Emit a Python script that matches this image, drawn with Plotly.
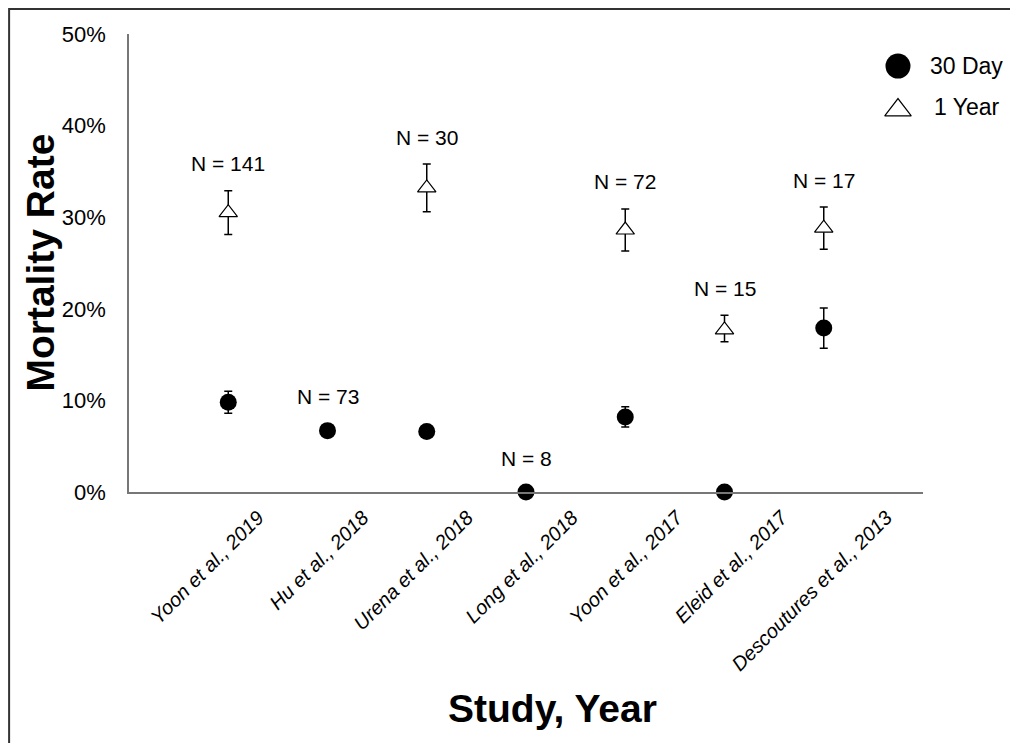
import plotly.graph_objects as go

# ---- data ----
studies = ["Yoon et al., 2019", "Hu et al., 2018", "Urena et al., 2018", "Long et al., 2018",
           "Yoon et al., 2017", "Eleid et al., 2017", "Descoutures et al., 2013"]
n_patients = [141, 73, 30, 8, 72, 15, 17]
mort_30d = [9.8, 6.7, 6.6, 0.0, 8.2, 0.0, 17.9]
err_30d = [1.2, 0.0, 0.0, 0.0, 1.1, 0.0, 2.2]
mort_1y = [30.5, None, 33.2, None, 28.6, 17.7, 28.8]
err_1y_plus = [2.4, 0.0, 2.6, 0.0, 2.3, 1.6, 2.3]
err_1y_minus = [2.4, 0.0, 2.6, 0.0, 2.3, 1.3, 2.3]
y_ticks = [0, 10, 20, 30, 40, 50]
y_tick_labels = ["0%", "10%", "20%", "30%", "40%", "50%"]
legend_names = ["30 Day", "1 Year"]

FONT = "Liberation Sans, Arial, sans-serif"

fig = go.Figure()

fig.add_trace(go.Scatter(
    x=studies, y=mort_30d, mode="markers", name=legend_names[0],
    marker=dict(symbol="circle", size=17, color="black", line=dict(width=0)),
    error_y=dict(type="data", array=err_30d, color="black", thickness=1.5, width=4),
    cliponaxis=False, showlegend=False,
))
fig.add_trace(go.Scatter(
    x=studies, y=mort_1y, mode="markers", name=legend_names[1],
    marker=dict(symbol="triangle-up", size=16, color="white", line=dict(width=1.2, color="black")),
    error_y=dict(type="data", symmetric=False, array=err_1y_plus, arrayminus=err_1y_minus,
                 color="black", thickness=1.5, width=4),
    cliponaxis=False, showlegend=False,
))

# invisible helper trace so the label axis (x3) is drawn
fig.add_trace(go.Scatter(
    x=list(range(len(studies))), y=[None] * len(studies), xaxis="x3", yaxis="y",
    mode="markers", showlegend=False, hoverinfo="skip",
))

# manual legend on an overlay paper-like axis
leg_x = 0.9685
leg_y = [0.930, 0.834]
fig.add_trace(go.Scatter(
    x=[leg_x], y=[leg_y[0]], mode="markers", xaxis="x2", yaxis="y2",
    marker=dict(symbol="circle", size=25, color="#000000", opacity=1, line=dict(width=0)),
    cliponaxis=False, showlegend=False, hoverinfo="skip",
))
fig.add_trace(go.Scatter(
    x=[leg_x], y=[leg_y[1]], mode="markers", xaxis="x2", yaxis="y2",
    marker=dict(symbol="triangle-up", size=23, color="white", opacity=1,
                line=dict(width=1.2, color="black")),
    cliponaxis=False, showlegend=False, hoverinfo="skip",
))

annotations = []
for name, xx, yy in zip(legend_names, [1.006, 1.011], [0.930, 0.8406]):
    annotations.append(dict(x=xx, y=yy, xref="paper", yref="paper", text=name,
                            showarrow=False, xanchor="left", yanchor="middle",
                            font=dict(family=FONT, size=23, color="black")))

# N labels above each study's highest element
for i, (s, n) in enumerate(zip(studies, n_patients)):
    cands = []
    if mort_1y[i] is not None:
        cands.append((mort_1y[i] + err_1y_plus[i], 27))
    if err_30d[i] > 0:
        cands.append((mort_30d[i] + err_30d[i], 27))
    else:
        cands.append((mort_30d[i], 34))
    top, shift = max(cands, key=lambda c: c[0] * 9.16 + c[1])
    annotations.append(dict(x=s, y=top, xref="x", yref="y", text=f"N = {n}",
                            showarrow=False, yanchor="middle", yshift=shift,
                            font=dict(family=FONT, size=21, color="black")))

annotations.append(dict(x=-0.1115, y=0.502, xref="paper", yref="paper", text="<b>Mortality Rate</b>",
                        textangle=-90, showarrow=False, xanchor="center", yanchor="middle",
                        font=dict(family=FONT, size=39, color="black")))
annotations.append(dict(x=0.5334, y=-0.472, xref="paper", yref="paper", text="<b>Study, Year</b>",
                        showarrow=False, xanchor="center", yanchor="middle",
                        font=dict(family=FONT, size=39, color="black")))

fig.update_layout(
    width=1010, height=743,
    margin=dict(l=129, r=87, t=34, b=251),
    paper_bgcolor="white", plot_bgcolor="white",
    font=dict(family=FONT, color="black"),
    showlegend=False,
    xaxis=dict(type="category", range=[-1, 7], showline=True, linecolor="#777", linewidth=1.5,
               showgrid=False, zeroline=False, ticks="", showticklabels=False),
    # label axis (labels in the original sit on a slightly wider spacing than the markers)
    xaxis3=dict(overlaying="x", anchor="y", side="bottom", range=[-0.984, 6.60],
                tickmode="array", tickvals=list(range(len(studies))), ticktext=studies,
                showline=False, showgrid=False, zeroline=False, ticks="", tickangle=-45,
                tickfont=dict(family="Liberation Sans, Arial", size=20, color="black", style="italic"),
                ticklabelshift=26, ticklabelstandoff=9),
    yaxis=dict(range=[0, 50], tickmode="array", tickvals=y_ticks, ticktext=y_tick_labels,
               showline=True, linecolor="#777",
               linewidth=1.5, showgrid=False, zeroline=False, ticks="",
               tickfont=dict(family=FONT, size=22, color="black"), ticklabelstandoff=17),
    xaxis2=dict(overlaying="x", anchor="y2", range=[0, 1], visible=False),
    yaxis2=dict(overlaying="y", anchor="x2", range=[0, 1], visible=False),
    annotations=annotations,
    shapes=[dict(type="rect", xref="paper", yref="paper", x0=-0.151, y0=-0.565, x1=1.118, y1=1.0546,
                 line=dict(color="#333", width=2), fillcolor="rgba(0,0,0,0)", layer="above")],
)

fig.write_html("out.html", config={"displayModeBar": False},
               post_script="document.body.style.margin='0px';")
